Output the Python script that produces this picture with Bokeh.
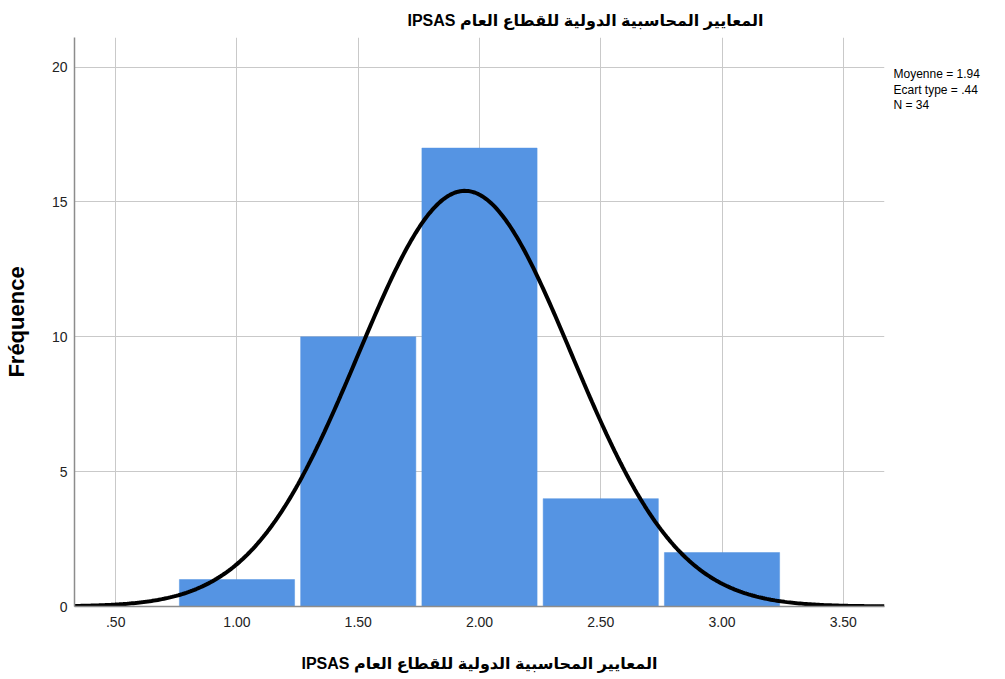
import numpy as np
from bokeh.plotting import figure
from bokeh.models import FixedTicker, Range1d, LinearAxis
from bokeh.embed import file_html
from bokeh.resources import INLINE

# Histogram data: bin centres and counts
bin_centers = [1.0, 1.5, 2.0, 2.5, 3.0]
counts = [1, 10, 17, 4, 2]
bin_width = 0.5

# Summary statistics shown beside the chart
mean = 1.94
std = 0.44
n = 34

x_ticks = [0.5, 1.0, 1.5, 2.0, 2.5, 3.0, 3.5]
x_tick_labels = [".50", "1.00", "1.50", "2.00", "2.50", "3.00", "3.50"]
y_ticks = [0, 5, 10, 15, 20]

title_text = "IPSAS المعايير المحاسبية الدولية للقطاع العام"
y_label = "Fréquence"
stats_lines = ["Moyenne = 1.94", "Ecart type = .44", "N = 34"]

FONT = "'Liberation Sans', Arial, 'DejaVu Sans', sans-serif"
BAR_COLOR = "#5594e3"
GRID_COLOR = "#c9c9c9"

Y_MAX = 21.1

p = figure(width=1005, height=679, output_backend="svg", toolbar_location=None,
           x_range=Range1d(0.33, 3.67), y_range=Range1d(0, Y_MAX),
           min_border_left=74, min_border_right=121, min_border_top=37,
           min_border_bottom=73)
p.outline_line_color = None
p.background_fill_color = "white"
p.border_fill_color = "white"

# Title, right-aligned with an offset so it sits over the right part of the plot
p.title.text = title_text
p.title.align = "right"
p.title.offset = 121
p.title.standoff = 14
p.title.vertical_align = "top"
p.title.text_font = FONT
p.title.text_font_style = "bold"
p.title.text_font_size = "16px"
p.title.text_color = "black"

# Grid
p.xgrid.grid_line_color = GRID_COLOR
p.ygrid.grid_line_color = GRID_COLOR
p.xgrid.grid_line_width = 1
p.ygrid.grid_line_width = 1

# Axes
p.xaxis.ticker = FixedTicker(ticks=x_ticks)
p.xaxis.major_label_overrides = {t: l for t, l in zip(x_ticks, x_tick_labels)}
p.yaxis.ticker = FixedTicker(ticks=y_ticks)
for ax in (p.xaxis[0], p.yaxis[0]):
    ax.axis_line_color = "#8c8c8c"
    ax.axis_line_width = 1.5
    ax.major_tick_out = 0
    ax.major_tick_in = 0
    ax.minor_tick_out = 0
    ax.minor_tick_in = 0
    ax.major_label_text_font = FONT
    ax.major_label_text_font_size = "14px"
    ax.major_label_text_color = "#222222"
    ax.axis_label_text_font = FONT
    ax.axis_label_text_font_style = "bold"
    ax.axis_label_text_color = "#000000"

p.xaxis.major_label_standoff = 10
p.xaxis.axis_label = title_text
p.xaxis.axis_label_text_font_size = "16px"
p.xaxis.axis_label_standoff = 25

p.yaxis.major_label_standoff = 7
p.yaxis.axis_label = y_label
p.yaxis.axis_label_text_font_size = "22px"
p.yaxis.axis_label_standoff = 20

# Bars
p.vbar(x=bin_centers, top=counts, width=bin_width * 0.95, bottom=0,
       fill_color=BAR_COLOR, line_color=BAR_COLOR, line_width=0.5)

# Fitted normal curve, scaled to counts
xs = np.linspace(0.33, 3.67, 400)
ys = n * bin_width * np.exp(-0.5 * ((xs - mean) / std) ** 2) / (std * np.sqrt(2 * np.pi))
p.line(xs, ys, line_color="black", line_width=4)

# Statistics block to the right of the plot: a bare axis whose labels are the lines
line_gap = 15.5 / 26.97          # one text line, in y units
stats_pos = [Y_MAX - 1.37 - i * line_gap for i in range(len(stats_lines))]
stats_axis = LinearAxis(
    ticker=FixedTicker(ticks=stats_pos),
    major_label_overrides={t: s for t, s in zip(stats_pos, stats_lines)},
    axis_line_color=None, major_tick_out=0, major_tick_in=0,
    minor_tick_out=0, minor_tick_in=0, major_label_standoff=9,
    major_label_text_font=FONT, major_label_text_font_size="12px",
    major_label_text_color="black",
)
p.add_layout(stats_axis, "right")

open("out.html", "w").write(file_html(p, INLINE))
